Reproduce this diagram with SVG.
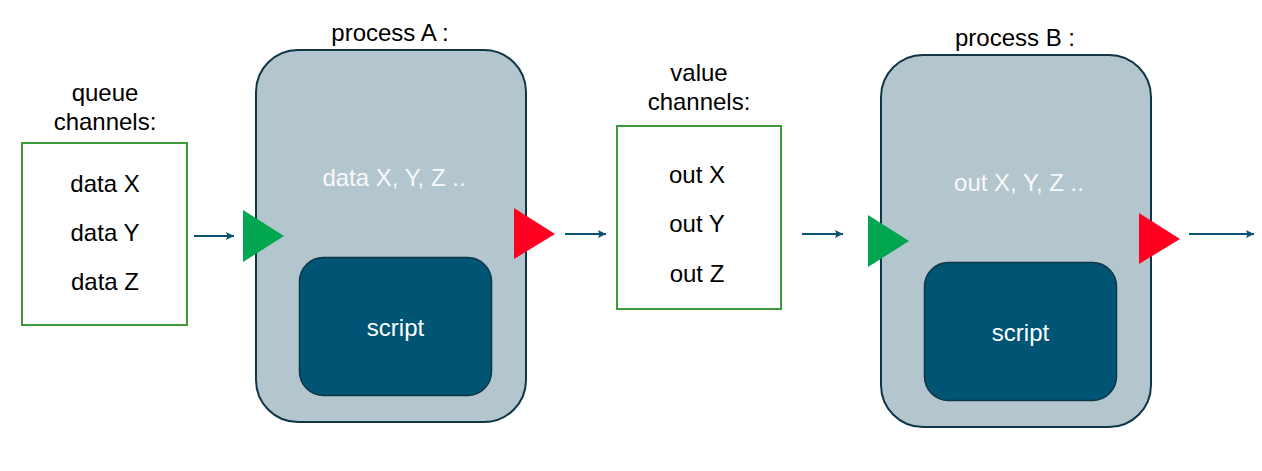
<svg xmlns="http://www.w3.org/2000/svg" width="1262" height="471" viewBox="0 0 1262 471">
  <style>
    text { font-family: "Liberation Sans", Arial, sans-serif; font-size: 24px; text-anchor: middle; }
    .dark { fill: #000000; }
    .light { fill: #f8f9fa; }
    .white { fill: #ffffff; }
    .chan { fill: #ffffff; stroke: #3c9c3a; stroke-width: 2; }
    .proc { fill: #b3c5cd; stroke: #0f3547; stroke-width: 2; }
    .scr { fill: #005574; stroke: #0f3547; stroke-width: 1.5; }
    .conn { stroke: #0c5272; stroke-width: 2; fill: none; marker-end: url(#ah); }
    .in { fill: #00a650; }
    .out { fill: #ff0020; }
  </style>
  <defs>
    <marker id="ah" markerUnits="userSpaceOnUse" markerWidth="10" markerHeight="10" refX="8" refY="4" orient="auto">
      <path d="M0,0 L8,4 L0,8 L1.5,4 z" fill="#0c5272"/>
    </marker>
  </defs>
  <rect width="1262" height="471" fill="#ffffff"/>

  <g id="queue-channels">
    <text class="dark" x="105" y="101">queue</text>
    <text class="dark" x="105" y="130">channels:</text>
    <rect class="chan" x="22" y="143" width="165" height="182"/>
    <text class="dark" x="105" y="192">data X</text>
    <text class="dark" x="105" y="241">data Y</text>
    <text class="dark" x="105" y="290">data Z</text>
  </g>

  <g id="process-a">
    <text class="dark" x="390" y="41">process A :</text>
    <rect class="proc" x="256" y="50" width="270" height="372" rx="42" ry="42"/>
    <text class="light" x="394" y="186">data X, Y, Z ..</text>
    <rect class="scr" x="299.5" y="257.5" width="192" height="138" rx="24" ry="24"/>
    <text class="white" x="395.5" y="336">script</text>
    <polygon class="in" points="243,210 243,262 284,236"/>
    <polygon class="out" points="514,208 514,259 555,234"/>
  </g>

  <g id="value-channels">
    <text class="dark" x="699" y="81">value</text>
    <text class="dark" x="699" y="110">channels:</text>
    <rect class="chan" x="617" y="126" width="164" height="183"/>
    <text class="dark" x="697" y="183">out X</text>
    <text class="dark" x="697" y="232">out Y</text>
    <text class="dark" x="697" y="282">out Z</text>
  </g>

  <g id="process-b">
    <text class="dark" x="1015" y="46">process B :</text>
    <rect class="proc" x="881" y="55" width="270" height="372" rx="42" ry="42"/>
    <text class="light" x="1019" y="191">out X, Y, Z ..</text>
    <rect class="scr" x="924.5" y="262.5" width="192" height="138" rx="24" ry="24"/>
    <text class="white" x="1020.5" y="341">script</text>
    <polygon class="in" points="868,215 868,267 909,241"/>
    <polygon class="out" points="1139,213 1139,264 1180,239"/>
  </g>

  <g id="connectors">
    <line class="conn" x1="194" y1="236" x2="234" y2="236"/>
    <line class="conn" x1="565" y1="234" x2="606" y2="234"/>
    <line class="conn" x1="802" y1="234" x2="843" y2="234"/>
    <line class="conn" x1="1189" y1="234" x2="1254" y2="234"/>
  </g>
</svg>
